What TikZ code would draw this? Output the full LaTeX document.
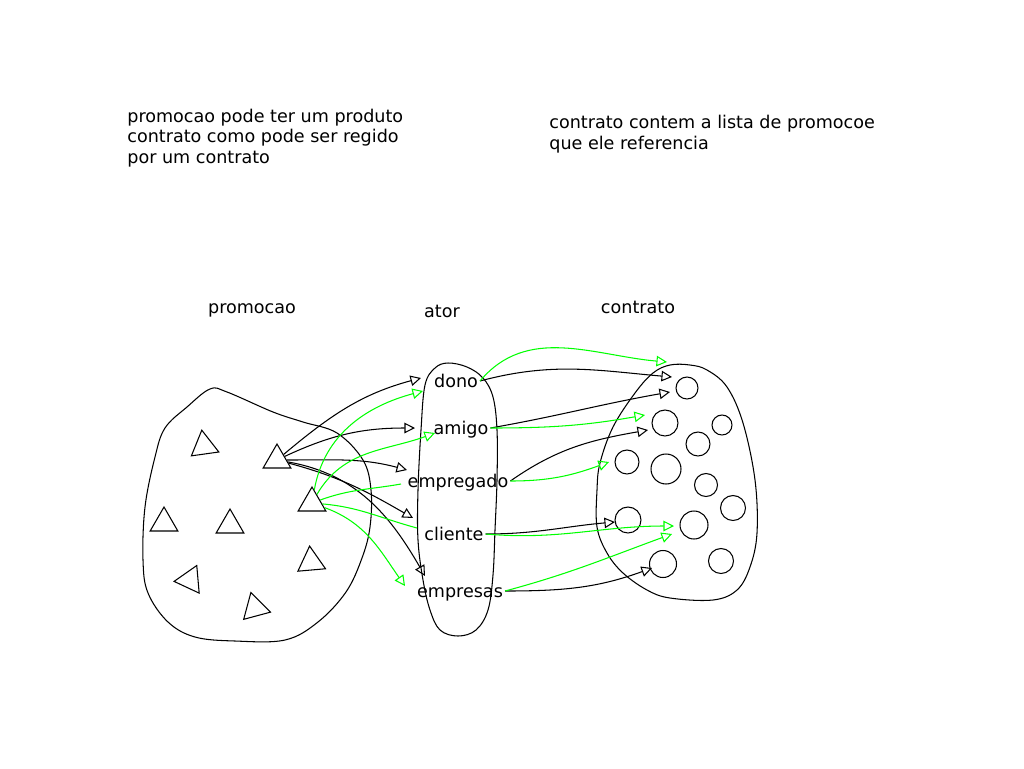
\documentclass[tikz,border=0pt]{standalone}
\usepackage{fontspec}
\setmainfont{DejaVu Sans}
\usetikzlibrary{arrows.meta,shapes.geometric,calc}

\begin{document}
\begin{tikzpicture}[x=0.02cm, y=-0.02cm,
  every node/.style={font=\fontsize{10}{11.7}\selectfont},
  linha/.style={line width=0.6pt},
  nota/.style={anchor=west, align=left, inner sep=0pt},
  papel/.style={inner sep=1pt, text height=1.5ex, text depth=.25ex},
  prod/.style={draw, linha, regular polygon, regular polygon sides=3, inner sep=0pt, minimum size=0.64cm},
  contr/.style={draw, linha, circle, inner sep=0pt, minimum size=0.5cm},
  liga/.style={linha, -{Triangle[open,length=6pt,width=6pt]}},
  ligav/.style={liga, green},
  linhav/.style={linha, green}]
\useasboundingbox (0,0) rectangle (1024,768);

% Notes
\node[nota] (notaPromocao) at (127,138) {promocao pode ter um produto\\contrato como pode ser regido\\por um contrato};
\node[nota] (notaContrato) at (549,134) {contrato contem a lista de promocoe\\que ele referencia};

% Titles
\node (tPromocao) at (252,310) {promocao};
\node (tAtor) at (442,311) {ator};
\node (tContrato) at (638,307) {contrato};

% Sets
\draw[linha] plot[smooth cycle, tension=0.6] coordinates {(210,389) (227,392) (273,412) (303,422) (337,433) (363,460) (371,490) (370,527) (362,558) (346,592) (318,622) (285,640) (235,641) (195,637) (168,622) (148,593) (143,560) (145,507) (155,457) (165,428) (187,407)};
\draw[linha] plot[smooth cycle, tension=0.6] coordinates {(448,363) (467,367) (483,378) (493,397) (497,430) (497,480) (495,530) (493,575) (488,610) (476,630) (458,636) (440,630) (430,610) (423,580) (418,540) (418,490) (421,430) (425,385) (435,368)};
\draw[linha] plot[smooth cycle, tension=0.6] coordinates {(670,365) (690,365) (707,370) (727,387) (743,423) (755,480) (757,533) (750,567) (737,590) (713,600) (670,598) (647,590) (623,573) (607,553) (597,527) (597,490) (600,463) (613,427) (635,393) (653,373)};

% Promocoes
\node[prod, rotate=8] (p1) at (204,446) {};
\node[prod] (p2) at (164,523) {};
\node[prod] (p3) at (230,525) {};
\node[prod, rotate=-25] (p4) at (190,580) {};
\node[prod, rotate=15] (p5) at (255,608) {};
\node[prod, rotate=5] (p6) at (311,562) {};
\node[prod] (p7) at (277,460) {};
\node[prod] (p8) at (312,503) {};

% Atores
\node[papel] (dono) at (456,381) {dono};
\node[papel] (amigo) at (461,428) {amigo};
\node[papel] (empregado) at (458,481) {empregado};
\node[papel] (cliente) at (454,534) {cliente};
\node[papel] (empresas) at (460,591) {empresas};

% Contratos
\node[contr, minimum size=0.44cm] (k1) at (687,388) {};
\node[contr, minimum size=0.52cm] (k2) at (665,423) {};
\node[contr, minimum size=0.40cm] (k3) at (722,425) {};
\node[contr, minimum size=0.48cm] (k4) at (698,444) {};
\node[contr, minimum size=0.48cm] (k5) at (627,462) {};
\node[contr, minimum size=0.60cm] (k6) at (666,469) {};
\node[contr, minimum size=0.46cm] (k7) at (706,485) {};
\node[contr, minimum size=0.50cm] (k8) at (733,508) {};
\node[contr, minimum size=0.52cm] (k9) at (628,520) {};
\node[contr, minimum size=0.56cm] (k10) at (694,525) {};
\node[contr, minimum size=0.50cm] (k11) at (721,561) {};
\node[contr, minimum size=0.54cm] (k12) at (663,564) {};

% Arrows promocao -> ator
\draw[liga] (p7) to[out=40, in=195] ($(dono)+(-35,-3)$);
\draw[liga] (p7) to[out=25, in=180] ($(amigo)+(-46,0)$);
\draw[liga] (p7) to[out=0, in=165] ($(empregado)+(-51,-11)$);
\draw[liga] (p7) to[out=-15, in=150] ($(cliente)+(-41,-16)$);
\draw[liga] (p7) to[out=-10, in=120] ($(empresas)+(-35,-15)$);
\draw[ligav] (p8) to[out=80, in=195] ($(dono)+(-33,10)$);
\draw[ligav] (p8) to[out=60, in=200] ($(amigo)+(-26,5)$);
\draw[linhav] (p8) to[out=20, in=190] ($(empregado)+(-57,3)$);
\draw[linhav] (p8) to[out=-5, in=165] ($(cliente)+(-37,-6)$);
\draw[ligav] (p8) to[out=-20, in=125] ($(empresas)+(-55,-5)$);

% Arrows ator -> contrato
\draw[liga] (dono.east) to[out=15, in=175] ($(k1)+(-15,-11)$);
\draw[liga] (amigo.east) to[out=10, in=190] ($(k1)+(-17,4)$);
\draw[liga] (empregado.east) to[out=35, in=190] ($(k2)+(-17,7)$);
\draw[liga] (cliente.east) to[out=0, in=185] ($(k9)+(-13,2)$);
\draw[liga] (empresas.east) to[out=0, in=200] ($(k12)+(-11,4)$);
\draw[ligav] (dono.east) to[out=50, in=175] ($(k1)+(-20,-26)$);
\draw[ligav] (amigo.east) to[out=0, in=190] ($(k2)+(-20,-8)$);
\draw[ligav] (empregado.east) to[out=0, in=200] ($(k5)+(-18,0)$);
\draw[ligav] (cliente.east) to[out=-5, in=180] ($(k10)+(-20,1)$);
\draw[ligav] (empresas.east) to[out=15, in=200] ($(k10)+(-22,9)$);
\end{tikzpicture}
\end{document}
